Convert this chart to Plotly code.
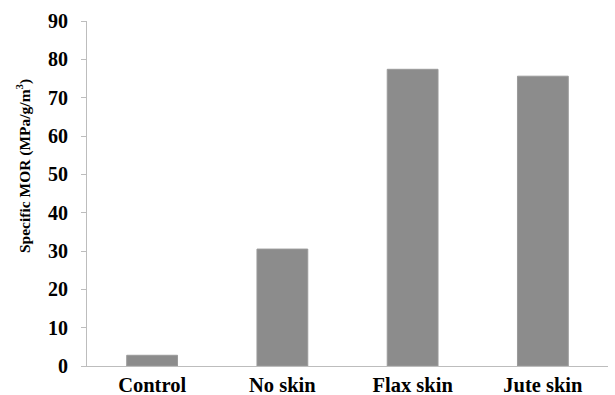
import plotly.graph_objects as go

categories = ["Control", "No skin", "Flax skin", "Jute skin"]
specific_mor = [2.8, 30.5, 77.4, 75.6]
y_ticks = [0, 10, 20, 30, 40, 50, 60, 70, 80, 90]

font_family = "Liberation Serif, Times New Roman, serif"

fig = go.Figure(
    go.Bar(
        x=categories,
        y=specific_mor,
        width=0.39,
        marker=dict(color="#8c8c8c", line=dict(color="#9a9a9a", width=1)),
    )
)

fig.update_layout(
    width=615,
    height=395,
    margin=dict(l=87, r=7, t=21, b=29),
    paper_bgcolor="white",
    plot_bgcolor="white",
    showlegend=False,
    font=dict(family=font_family, color="black"),
)

fig.update_xaxes(
    automargin=False,
    showline=True,
    linecolor="#bdbdbd",
    linewidth=1,
    showgrid=False,
    ticks="",
    ticklabelstandoff=0,
    tickfont=dict(family=font_family, size=20.5, weight="bold"),
)

fig.update_yaxes(
    automargin=False,
    range=[0, 90],
    tickvals=y_ticks,
    showline=True,
    linecolor="#bdbdbd",
    linewidth=1,
    showgrid=False,
    zeroline=False,
    ticks="outside",
    ticklen=5,
    tickcolor="#bdbdbd",
    ticklabelstandoff=9,
    tickfont=dict(family=font_family, size=20, weight="bold"),
)

# Vertical axis title placed as a rotated annotation
fig.add_annotation(
    text="Specific MOR (MPa/g/m<sup>3</sup>)",
    xref="paper",
    yref="paper",
    x=(23 - 87) / 521,
    y=(366 - 166) / 345,
    xanchor="center",
    yanchor="middle",
    textangle=-90,
    showarrow=False,
    font=dict(family=font_family, size=15.5, weight="bold", color="black"),
)

fig.write_html("out.html")
